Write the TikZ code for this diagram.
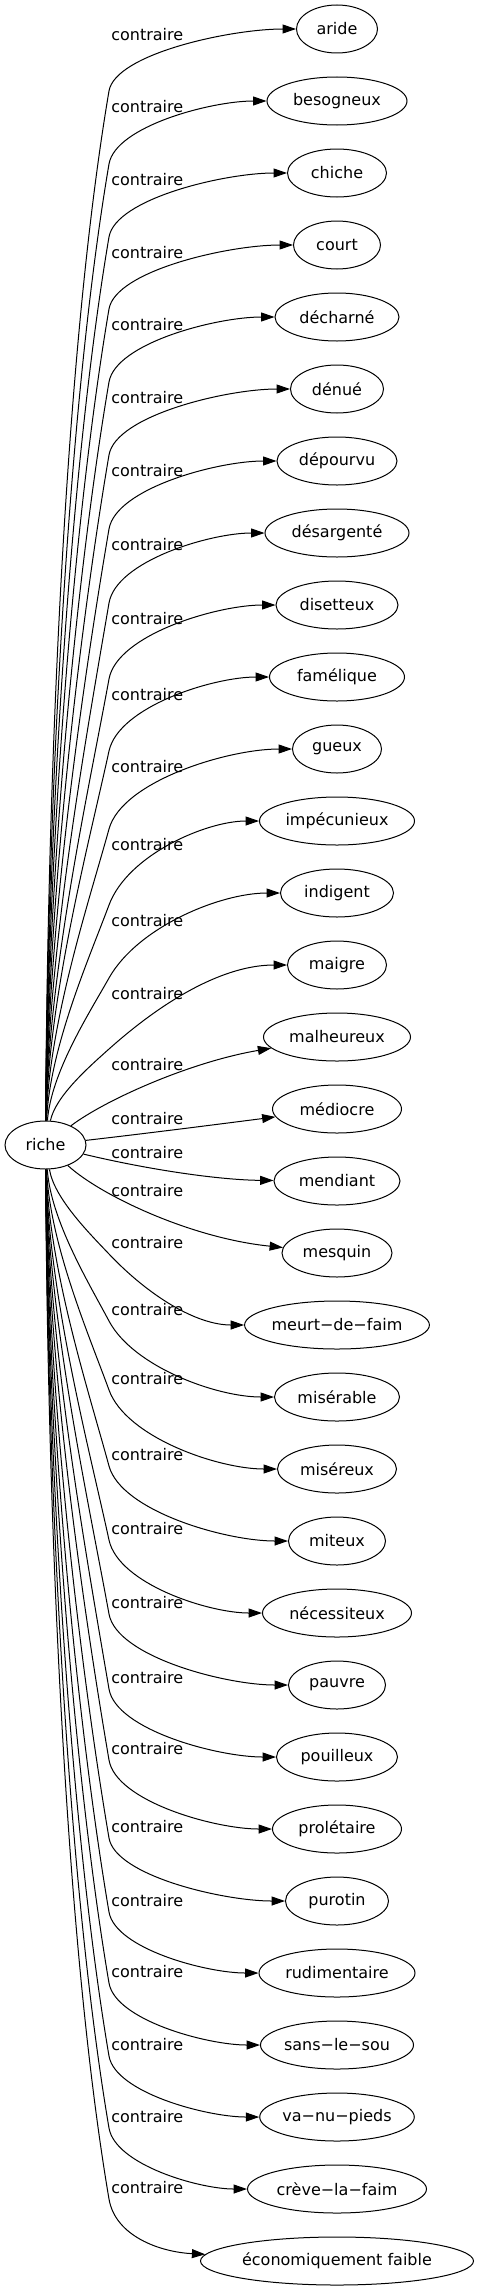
\documentclass[tikz,border=0pt]{standalone}
\usepackage{fontspec}
\setmainfont{DejaVu Sans}
\usetikzlibrary{arrows.meta,shapes.geometric,calc}
\newcommand\nfont{\fontsize{12}{14}\selectfont}
\tikzset{
  tnode/.style={draw, ellipse, inner sep=0pt, minimum height=36pt, line width=0.75pt, font=\nfont},
  lbl/.style={anchor=west, inner sep=0pt, font=\nfont},
  edge/.style={draw, line width=0.75pt, -{Triangle[length=10pt,width=6.7pt]}}
}
\newcommand\enode[5]{\node[tnode,minimum width=#4*0.75pt] (#1) at (#2,#3) {#5};}
\newcommand\uedge[3]{%
 \pgfmathsetmacro\eL{1121-#3}%
 \pgfmathsetmacro\em{max(0.17,80.6/\eL)}%
 \pgfmathsetmacro\ecax{47+600/\eL}%
 \pgfmathsetmacro\eca{1121-0.34*\eL}%
 \pgfmathsetmacro\ecbx{109-\em*0.25*\eL}%
 \pgfmathsetmacro\ecby{#3+0.25*\eL}%
 \pgfmathsetmacro\ec{0.6*(#3-#2)}%
 \pgfmathsetmacro\eccx{109+\em*\ec}%
 \pgfmathsetmacro\eccy{#3-\ec}%
 \draw[edge] (riche) .. controls (\ecax,\eca) and (\ecbx,\ecby) .. (109,#3) .. controls (\eccx,\eccy) and ($(#1.west)!0.35!(109,#2)$) .. (#1);
}
\newcommand\ledge[3]{%
 \pgfmathsetmacro\eL{#3-1169}%
 \pgfmathsetmacro\em{max(0.17,80.6/\eL)}%
 \pgfmathsetmacro\ecax{47+600/\eL}%
 \pgfmathsetmacro\eca{1169+0.34*\eL}%
 \pgfmathsetmacro\ecbx{109-\em*0.25*\eL}%
 \pgfmathsetmacro\ecby{#3-0.25*\eL}%
 \pgfmathsetmacro\ec{0.6*(#2-#3)}%
 \pgfmathsetmacro\eccx{109+\em*\ec}%
 \pgfmathsetmacro\eccy{#3+\ec}%
 \draw[edge] (riche) .. controls (\ecax,\eca) and (\ecbx,\ecby) .. (109,#3) .. controls (\eccx,\eccy) and ($(#1.west)!0.35!(109,#2)$) .. (#1);
}
\begin{document}
\begin{tikzpicture}[x=0.75pt,y=-0.75pt]
\useasboundingbox (0,0) rectangle (480,2291);
\enode{riche}{45.5}{1145}{81}{riche}
\enode{t0}{337}{29}{81}{aride}
\enode{t1}{337}{101}{140}{besogneux}
\enode{t2}{337}{173}{99}{chiche}
\enode{t3}{337}{245}{87}{court}
\enode{t4}{337}{317}{124}{décharné}
\enode{t5}{337}{389}{93}{dénué}
\enode{t6}{337}{461}{120}{dépourvu}
\enode{t7}{337}{533}{144}{désargenté}
\enode{t8}{337}{605}{122}{disetteux}
\enode{t9}{337}{677}{135}{famélique}
\enode{t10}{337}{749}{89}{gueux}
\enode{t11}{337}{821}{155}{impécunieux}
\enode{t12}{337}{893}{113}{indigent}
\enode{t13}{337}{965}{99}{maigre}
\enode{t14}{337}{1037}{147}{malheureux}
\enode{t15}{337}{1109}{129}{médiocre}
\enode{t16}{337}{1181}{126}{mendiant}
\enode{t17}{337}{1253}{110}{mesquin}
\enode{t18}{337}{1325}{168}{meurt−de−faim}
\enode{t19}{337}{1397}{125}{misérable}
\enode{t20}{337}{1469}{119}{miséreux}
\enode{t21}{337}{1541}{97}{miteux}
\enode{t22}{337}{1613}{149}{nécessiteux}
\enode{t23}{337}{1685}{97}{pauvre}
\enode{t24}{337}{1757}{121}{pouilleux}
\enode{t25}{337}{1829}{129}{prolétaire}
\enode{t26}{337}{1901}{103}{purotin}
\enode{t27}{337}{1973}{156}{rudimentaire}
\enode{t28}{337}{2045}{153}{sans−le−sou}
\enode{t29}{337}{2117}{152}{va−nu−pieds}
\enode{t30}{337}{2189}{179}{crève−la−faim}
\enode{t31}{337}{2261}{273}{économiquement faible}
\node[lbl] (l0) at (111,35) {contraire};
\node[lbl] (l1) at (111,107) {contraire};
\node[lbl] (l2) at (111,180) {contraire};
\node[lbl] (l3) at (111,253) {contraire};
\node[lbl] (l4) at (111,325) {contraire};
\node[lbl] (l5) at (111,398) {contraire};
\node[lbl] (l6) at (111,471) {contraire};
\node[lbl] (l7) at (111,545) {contraire};
\node[lbl] (l8) at (111,619) {contraire};
\node[lbl] (l9) at (111,695) {contraire};
\node[lbl] (l10) at (111,767) {contraire};
\node[lbl] (l11) at (111,845) {contraire};
\node[lbl] (l12) at (111,921) {contraire};
\node[lbl] (l13) at (111,994) {contraire};
\node[lbl] (l14) at (111,1065) {contraire};
\node[lbl] (l15) at (111,1119) {contraire};
\node[lbl] (l16) at (111,1153) {contraire};
\node[lbl] (l17) at (111,1191) {contraire};
\node[lbl] (l18) at (111,1243) {contraire};
\node[lbl] (l19) at (111,1310) {contraire};
\node[lbl] (l20) at (111,1379) {contraire};
\node[lbl] (l21) at (111,1455) {contraire};
\node[lbl] (l22) at (111,1529) {contraire};
\node[lbl] (l23) at (111,1603) {contraire};
\node[lbl] (l24) at (111,1678) {contraire};
\node[lbl] (l25) at (111,1749) {contraire};
\node[lbl] (l26) at (111,1827) {contraire};
\node[lbl] (l27) at (111,1901) {contraire};
\node[lbl] (l28) at (111,1972) {contraire};
\node[lbl] (l29) at (111,2045) {contraire};
\node[lbl] (l30) at (111,2117) {contraire};
\node[lbl] (l31) at (111,2188) {contraire};
\uedge{t0}{29}{91}
\uedge{t1}{101}{164}
\uedge{t2}{173}{237}
\uedge{t3}{245}{309}
\uedge{t4}{317}{382}
\uedge{t5}{389}{455}
\uedge{t6}{461}{529}
\uedge{t7}{533}{603}
\uedge{t8}{605}{679}
\uedge{t9}{677}{751}
\uedge{t10}{749}{829}
\uedge{t11}{821}{905}
\uedge{t12}{893}{978}
\uedge{t13}{965}{1049}
\draw[edge] (riche) .. controls (105,1100) and (190,1062) .. (t14);
\draw[edge] (riche) .. controls (150,1133) and (220,1124) .. (t15);
\draw[edge] (riche) .. controls (150,1170) and (220,1180) .. (t16);
\draw[edge] (riche) .. controls (100,1195) and (190,1238) .. (t17);
\ledge{t18}{1325}{1254}
\ledge{t19}{1397}{1321}
\ledge{t20}{1469}{1390}
\ledge{t21}{1541}{1466}
\ledge{t22}{1613}{1540}
\ledge{t23}{1685}{1614}
\ledge{t24}{1757}{1689}
\ledge{t25}{1829}{1760}
\ledge{t26}{1901}{1838}
\ledge{t27}{1973}{1912}
\ledge{t28}{2045}{1983}
\ledge{t29}{2117}{2056}
\ledge{t30}{2189}{2128}
\draw[edge] (riche) .. controls (47.6,1519) and (65.2,1941.5) .. (109,2199) .. controls (115.3,2236.2) and (160,2252) .. (t31);
\end{tikzpicture}
\end{document}
